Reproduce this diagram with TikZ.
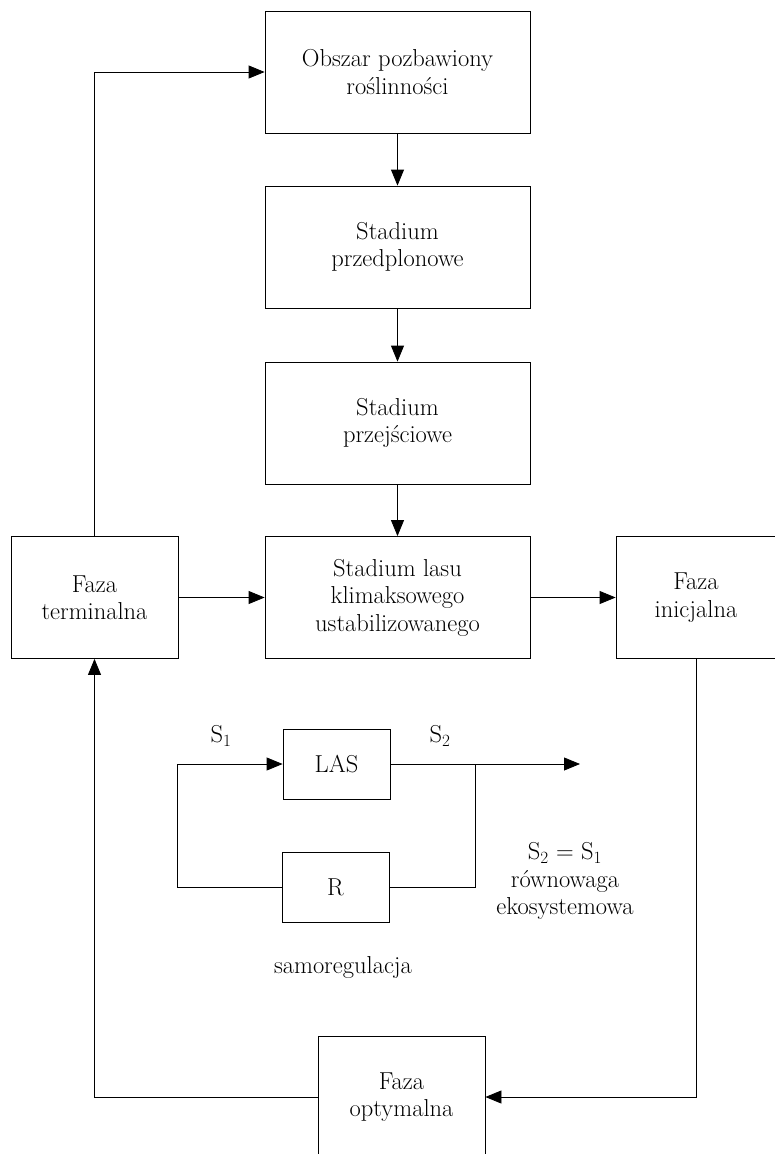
\documentclass[tikz,border=0pt]{standalone}
\usepackage{fontspec}
\usetikzlibrary{arrows.meta}
\begin{document}
\begin{tikzpicture}[x=1pt,y=-1pt,
  line width=0.8pt,
  txt/.style={font=\fontsize{24.5}{27.5}\selectfont, align=center, inner sep=0pt},
  box/.style={txt, draw, minimum width=#1, minimum height=122},
  sbox/.style={txt, draw, minimum width=107, minimum height=70},
  arr/.style={-{Triangle[length=16pt,width=13pt]}}
]
\useasboundingbox (0,0) rectangle (774,1154);
% main nodes
\node[box=265] (B1) at (397.5,72) {Obszar pozbawiony\\ro\'slinno\'sci};
\node[box=265] (B2) at (397.5,247) {Stadium\\przedplonowe};
\node[box=265] (B3) at (397.5,423) {Stadium\\przej\'sciowe};
\node[box=265] (B4) at (397.5,597.5) {Stadium lasu\\klimaksowego\\ustabilizowanego};
\node[box=167] (FT) at (94.5,597.5) {Faza\\terminalna};
\node[box=160] (FI) at (696,597.5) {Faza\\inicjalna};
\node[box=167] (FO) at (401.5,1097) {Faza\\optymalna};
% main connectors
\draw[arr] (FT.north) |- (B1.west);
\draw[arr] (B1.south) -- (B2.north);
\draw[arr] (B2.south) -- (B3.north);
\draw[arr] (B3.south) -- (B4.north);
\draw[arr] (FT.east) -- (B4.west);
\draw[arr] (B4.east) -- (FI.west);
\draw[arr] (FI.south) |- (FO.east);
\draw[arr] (FO.west) -| (FT.south);
% feedback loop
\node[sbox] (LAS) at (336.5,764) {LAS};
\node[sbox] (R) at (335.5,887) {R};
\coordinate (loopL) at (177,764);
\coordinate (junc) at (475,764);
\coordinate (outEnd) at (580,764);
\draw[arr] (R.west) -| (loopL) -- (LAS.west);
\draw[arr] (LAS.east) -- (outEnd);
\draw (junc) |- (R.east);
% labels
\node[txt] (s1) at (221,736) {S\textsubscript{1}};
\node[txt] (s2) at (440,736) {S\textsubscript{2}};
\node[txt] (eq) at (565,881) {S\textsubscript{2} = S\textsubscript{1}\\r\'ownowaga\\ekosystemowa};
\node[txt] (samo) at (343,967) {samoregulacja};
\end{tikzpicture}
\end{document}
